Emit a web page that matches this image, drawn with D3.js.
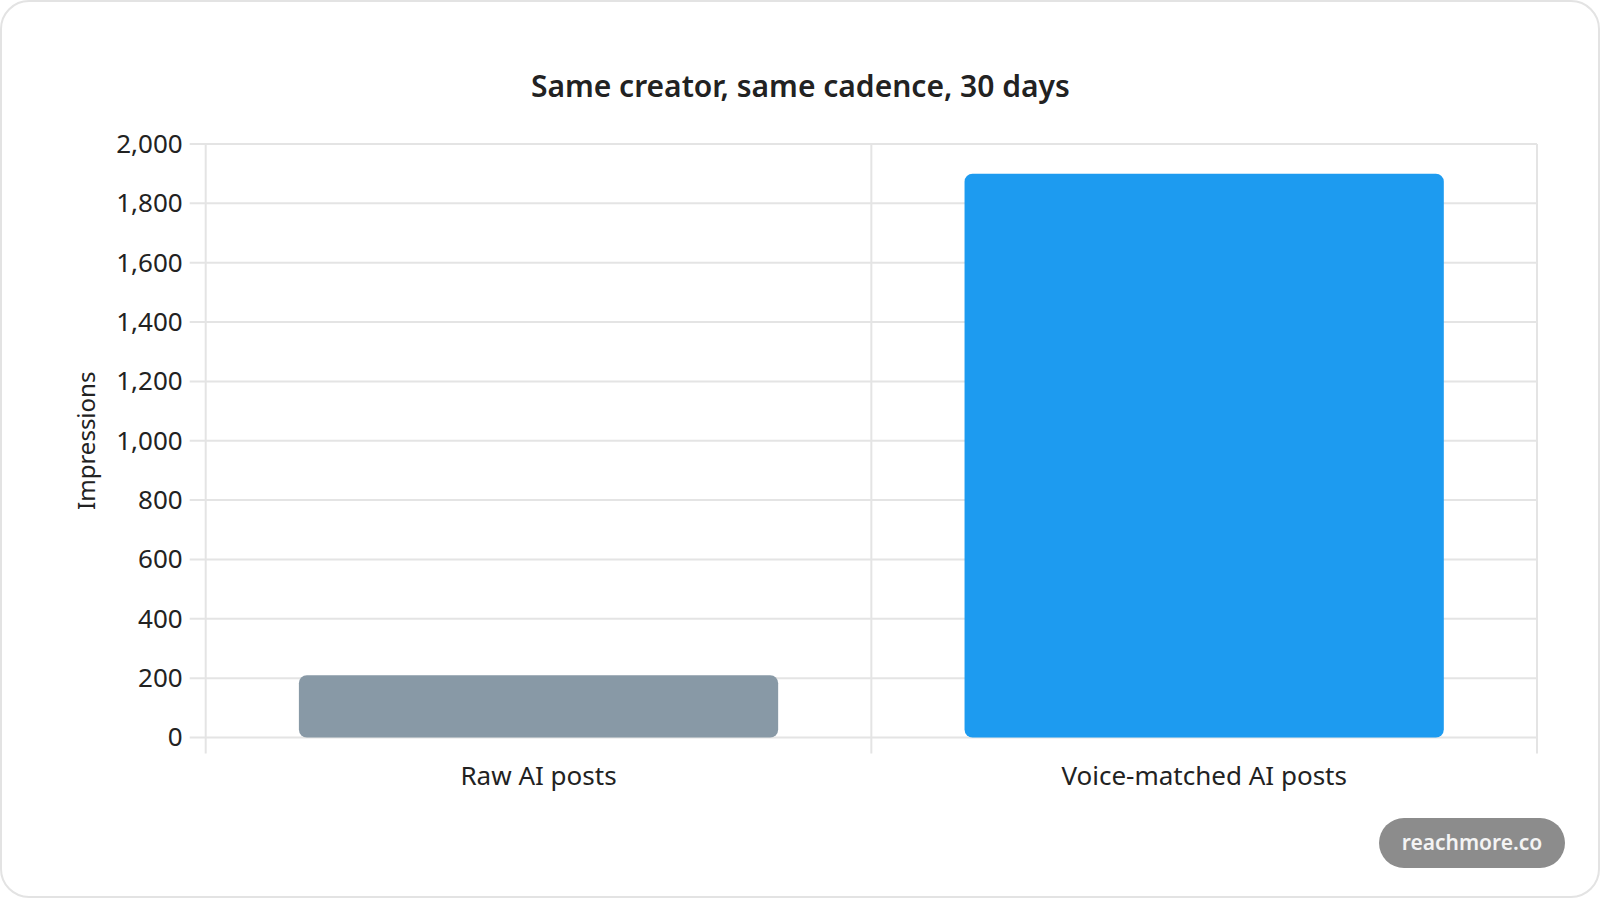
<!DOCTYPE html>
<html>
<head>
<meta charset="utf-8">
<script src="https://cdn.jsdelivr.net/npm/d3@7"></script>
<style>
  html, body { margin: 0; padding: 0; background: #fff; }
  svg { display: block; font-family: "Noto Sans", "Open Sans", sans-serif; }
</style>
</head>
<body>
<div id="chart"></div>
<script>
// chart data
const categories = ['Raw AI posts', 'Voice-matched AI posts'];
const impressions = [210, 1900];
const barColors = ['#8899a6', '#1d9bf0'];
const yTicks = [0, 200, 400, 600, 800, 1000, 1200, 1400, 1600, 1800, 2000];

const W = 1600, H = 898;
const margin = { top: 144, right: 63, bottom: 160.5, left: 205.7 };
const width = W - margin.left - margin.right;
const height = H - margin.top - margin.bottom;

const svg = d3.select('#chart').append('svg')
  .attr('width', W)
  .attr('height', H);

// card outline
svg.append('rect')
  .attr('x', 1).attr('y', 1)
  .attr('width', W - 2).attr('height', H - 2)
  .attr('rx', 28)
  .attr('fill', '#fff')
  .attr('stroke', '#e3e3e3')
  .attr('stroke-width', 2);

svg.append('text')
  .attr('x', margin.left + width / 2 - 71)
  .attr('y', 97)
  .attr('text-anchor', 'middle')
  .attr('font-size', 30)
  .attr('font-weight', 600)
  .attr('fill', '#222')
  .text('Same creator, same cadence, 30 days');

const g = svg.append('g')
  .attr('transform', `translate(${margin.left},${margin.top})`);

const x = d3.scaleBand().domain(categories).range([0, width]);
const y = d3.scaleLinear().domain([0, 2000]).range([height, 0]);

// horizontal grid
g.append('g')
  .selectAll('line')
  .data(yTicks)
  .join('line')
  .attr('x1', -16).attr('x2', width)
  .attr('y1', d => y(d)).attr('y2', d => y(d))
  .attr('stroke', '#e4e4e4')
  .attr('stroke-width', 2);

// vertical grid at category edges
const edges = categories.map(c => x(c)).concat([width]);
g.append('g')
  .selectAll('line')
  .data(edges)
  .join('line')
  .attr('x1', d => d).attr('x2', d => d)
  .attr('y1', 0).attr('y2', height + 16)
  .attr('stroke', '#e4e4e4')
  .attr('stroke-width', 2);

// y axis labels
const yAxis = g.append('g')
  .call(d3.axisLeft(y).tickValues(yTicks).tickFormat(d3.format(',')).tickSize(0).tickPadding(23));
yAxis.select('.domain').remove();
yAxis.selectAll('text')
  .attr('font-size', 26)
  .attr('fill', '#222')
  .attr('font-family', '"Noto Sans", "Open Sans", sans-serif');

// x axis labels
const xAxis = g.append('g')
  .attr('transform', `translate(0,${height})`)
  .call(d3.axisBottom(x).tickSize(0).tickPadding(29));
xAxis.select('.domain').remove();
xAxis.selectAll('text')
  .attr('font-size', 26)
  .attr('fill', '#222')
  .attr('font-family', '"Noto Sans", "Open Sans", sans-serif');

// bars, rounded on all corners like the original
const barW = x.bandwidth() * 0.72;
g.selectAll('.bar')
  .data(categories)
  .join('rect')
  .attr('class', 'bar')
  .attr('x', d => x(d) + (x.bandwidth() - barW) / 2)
  .attr('y', (d, i) => y(impressions[i]))
  .attr('width', barW)
  .attr('height', (d, i) => height - y(impressions[i]))
  .attr('rx', 8)
  .attr('fill', (d, i) => barColors[i]);

// axis title
svg.append('text')
  .attr('transform', `translate(95,${margin.top + height / 2}) rotate(-90)`)
  .attr('text-anchor', 'middle')
  .attr('font-size', 24)
  .attr('fill', '#222')
  .text('Impressions');

// watermark pill
svg.append('rect')
  .attr('x', 1379).attr('y', 818)
  .attr('width', 186).attr('height', 50)
  .attr('rx', 25)
  .attr('fill', '#8c8c8c');
svg.append('text')
  .attr('x', 1472).attr('y', 850)
  .attr('text-anchor', 'middle')
  .attr('font-size', 21)
  .attr('font-weight', 600)
  .attr('fill', '#f4f4f4')
  .text('reachmore.co');
</script>
</body>
</html>
